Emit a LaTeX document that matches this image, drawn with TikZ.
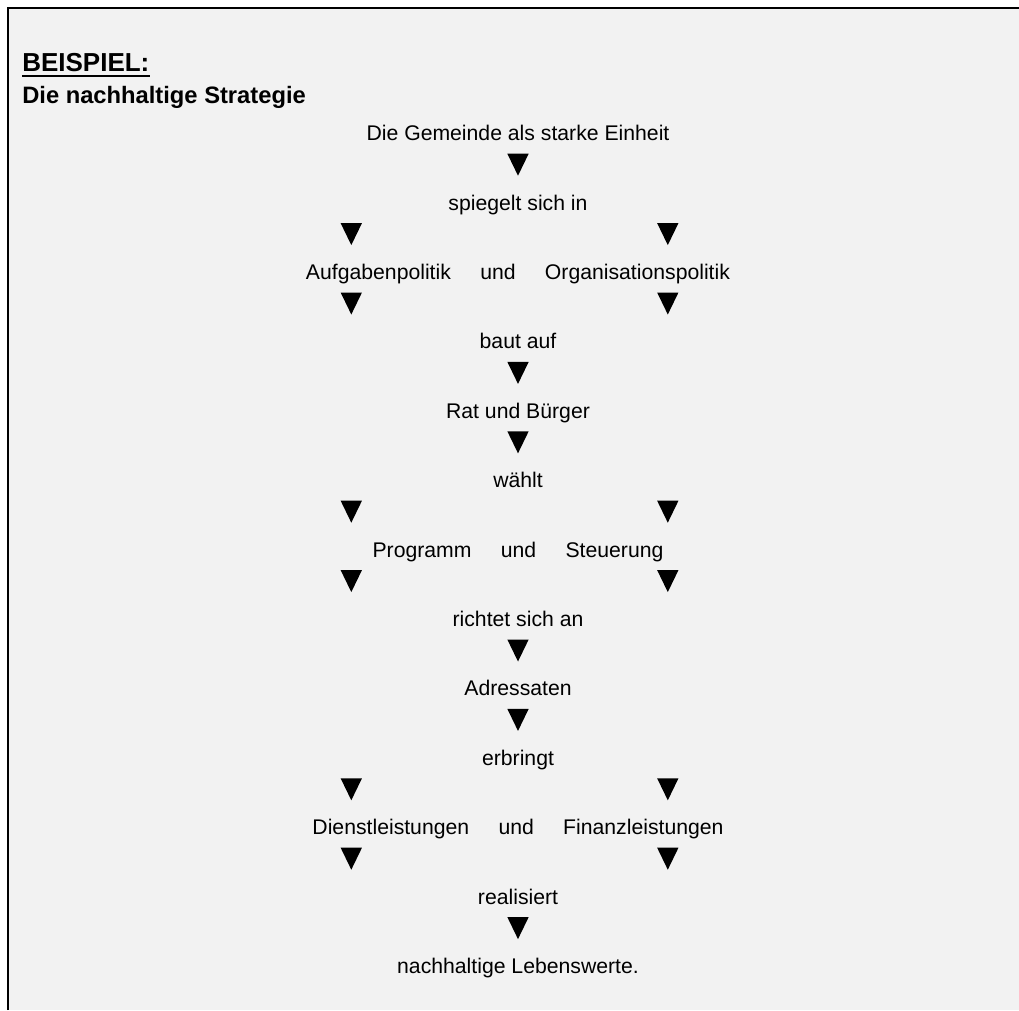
\documentclass[tikz,border=0pt]{standalone}
\usepackage{fontspec}
\setmainfont{Liberation Sans}
\usepackage{tikz}
\usetikzlibrary{shapes.geometric}
\definecolor{panel}{HTML}{F2F2F2}
\definecolor{ink}{HTML}{000000}
\tikzset{
  txt/.style  ={anchor=base,inner sep=0pt,text=ink,font=\fontsize{15.9}{19}\selectfont},
  head/.style ={anchor=base west,inner sep=0pt,text=ink,font=\bfseries\fontsize{17.8}{21}\selectfont},
  big/.style  ={head,font=\bfseries\fontsize{19.5}{23}\selectfont},
  tri/.style  ={isosceles triangle,isosceles triangle stretches,rotate=-90,anchor=apex,
                minimum width=16pt,minimum height=16.5pt,inner sep=0pt,outer sep=0pt,
                fill=ink,draw=none},
  frame/.style={line width=1.5pt,draw=ink}
}
\newcommand{\gap}{\hspace{22pt}}

\begin{document}
\begin{tikzpicture}[x=0.75pt,y=-0.75pt]
  \useasboundingbox (0,0) rectangle (1019,1010);
  \fill[white] (0,0) rectangle (1019,1010);
  \fill[panel] (8,8) rectangle (1019,1010);
  \draw[frame] (8,1010) -- (8,8) -- (1019,8);

  % heading
  \node[big] (title) at (22,71.5) {BEISPIEL:};
  \draw[line width=1.8pt] ([yshift=-3.4pt]title.base west) -- ([yshift=-3.4pt]title.base east);
  \node[head] (sub) at (22,103) {Die nachhaltige Strategie};

  % the chain of lines
  \node[txt] (gemeinde)   at (518,140.7) {Die Gemeinde als starke Einheit};
  \node[tri] (m1) at (518,175.7) {};
  \node[txt] (spiegelt)   at (518,210.1) {spiegelt sich in};
  \node[tri] (l2) at (351.3,245.1) {};
  \node[tri] (r2) at (667.8,245.1) {};
  \node[txt] (politik)    at (518,279.5) {Aufgabenpolitik\gap und\gap Organisationspolitik};
  \node[tri] (l3) at (351.3,314.5) {};
  \node[tri] (r3) at (667.8,314.5) {};
  \node[txt] (baut)       at (518,348.9) {baut auf};
  \node[tri] (m4) at (518,383.9) {};
  \node[txt] (rat)        at (518,418.3) {Rat und Bürger};
  \node[tri] (m5) at (518,453.3) {};
  \node[txt] (waehlt)     at (518,487.7) {wählt};
  \node[tri] (l6) at (351.3,522.7) {};
  \node[tri] (r6) at (667.8,522.7) {};
  \node[txt] (programm)   at (518,557.1) {Programm\gap und\gap Steuerung};
  \node[tri] (l7) at (351.3,592.1) {};
  \node[tri] (r7) at (667.8,592.1) {};
  \node[txt] (richtet)    at (518,626.5) {richtet sich an};
  \node[tri] (m8) at (518,661.5) {};
  \node[txt] (adressaten) at (518,695.9) {Adressaten};
  \node[tri] (m9) at (518,730.9) {};
  \node[txt] (erbringt)   at (518,765.3) {erbringt};
  \node[tri] (l10) at (351.3,800.3) {};
  \node[tri] (r10) at (667.8,800.3) {};
  \node[txt] (leistungen) at (518,834.7) {Dienstleistungen\gap und\gap Finanzleistungen};
  \node[tri] (l11) at (351.3,869.7) {};
  \node[tri] (r11) at (667.8,869.7) {};
  \node[txt] (realisiert) at (518,904.1) {realisiert};
  \node[tri] (m12) at (518,939.1) {};
  \node[txt] (werte)      at (518,973.5) {nachhaltige Lebenswerte.};
\end{tikzpicture}
\end{document}
